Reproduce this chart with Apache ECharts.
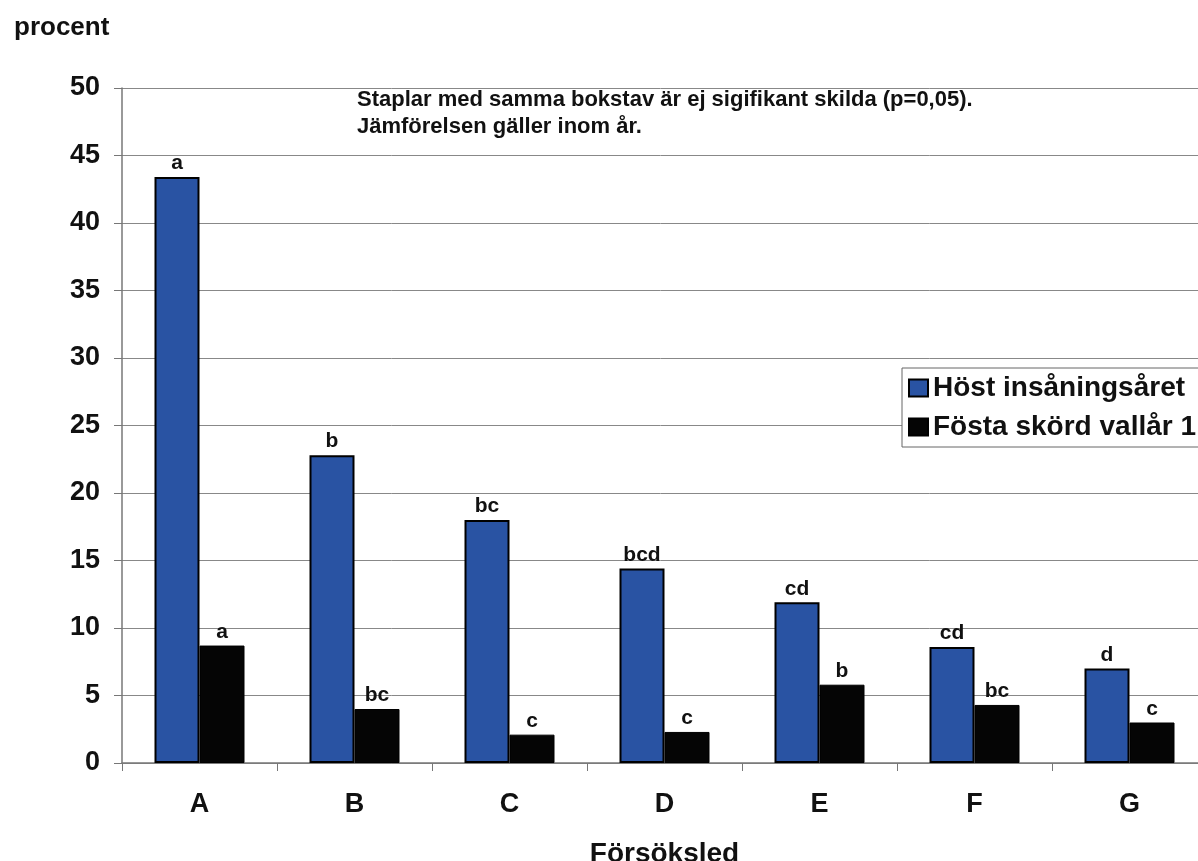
<!DOCTYPE html>
<html>
<head>
<meta charset="utf-8">
<script src="https://cdn.jsdelivr.net/npm/echarts@6/dist/echarts.min.js"></script>
<style>
html,body{margin:0;padding:0;background:#fff;overflow:hidden;}
#chart{width:1198px;height:861px;}
</style>
</head>
<body>
<div id="chart"></div>
<script>
const categories = ['A','B','C','D','E','F','G'];
const seriesNames = ['Höst insåningsåret','Fösta skörd vallår 1'];
const hostValues = [43.4, 22.8, 18.0, 14.4, 11.9, 8.6, 7.0];
const skordValues = [8.7, 4.0, 2.1, 2.3, 5.8, 4.3, 3.0];
const hostLetters = ['a','b','bc','bcd','cd','cd','d'];
const skordLetters = ['a','bc','c','c','b','bc','c'];
const yTicks = [0,5,10,15,20,25,30,35,40,45,50];
const noteLines = ['Staplar med samma bokstav är ej sigifikant skilda (p=0,05).','Jämförelsen gäller inom år.'];

const FONT = '"Liberation Sans", Arial, sans-serif';
const chart = echarts.init(document.getElementById('chart'));

function labelFor(letters){
  return {
    show: true, position: 'top', distance: 3,
    formatter: p => letters[p.dataIndex],
    fontFamily: FONT, fontWeight: 'bold', fontSize: 21, color: '#111'
  };
}

chart.setOption({
  animation: false,
  backgroundColor: '#fff',
  grid: {left: 122, width: 1085, top: 88, bottom: 98, containLabel: false, outerBoundsMode: 'none'},
  title: {
    text: 'procent', left: 9, top: 10,
    textStyle: {fontFamily: FONT, fontWeight: 'bold', fontSize: 26, color: '#111'}
  },
  legend: {
    left: 902, top: 368,
    orient: 'vertical',
    itemWidth: 19, itemHeight: 17, itemGap: 11,
    padding: [6, 40, 6, 6],
    backgroundColor: '#fff', borderColor: '#666', borderWidth: 1,
    icon: 'rect',
    textStyle: {fontFamily: FONT, fontWeight: 'bold', fontSize: 28, color: '#111'},
    data: seriesNames
  },
  xAxis: {
    type: 'category', data: categories,
    name: 'Försöksled', nameLocation: 'middle', nameGap: 77,
    nameTextStyle: {fontFamily: FONT, fontWeight: 'bold', fontSize: 28, color: '#111'},
    axisLine: {lineStyle: {color: '#777', width: 1.5}},
    axisTick: {show: true, length: 8, lineStyle: {color: '#777'}},
    axisLabel: {margin: 28, fontFamily: FONT, fontWeight: 'bold', fontSize: 27, color: '#111'}
  },
  yAxis: {
    type: 'value', min: 0, max: 50, interval: 5,
    axisLine: {show: true, lineStyle: {color: '#777', width: 1.5}},
    axisTick: {show: true, length: 8, inside: false, lineStyle: {color: '#777'}},
    axisLabel: {margin: 22, fontFamily: FONT, fontWeight: 'bold', fontSize: 27, color: '#111',
      formatter: v => yTicks.includes(v) ? String(v) : ''},
    splitLine: {show: true, lineStyle: {color: '#888', width: 1}}
  },
  series: [
    {
      name: seriesNames[0], type: 'bar', data: hostValues,
      barGap: '0%', barWidth: 45,
      itemStyle: {color: '#2953a3', borderColor: '#000', borderWidth: 2},
      label: labelFor(hostLetters)
    },
    {
      name: seriesNames[1], type: 'bar', data: skordValues,
      barWidth: 45,
      itemStyle: {color: '#050505', borderColor: '#000', borderWidth: 1},
      label: labelFor(skordLetters)
    }
  ],
  graphic: [
    {type: 'text', left: 357, top: 89,
      style: {text: noteLines[0], font: 'bold 22px ' + FONT, fill: '#111'}},
    {type: 'text', left: 357, top: 116,
      style: {text: noteLines[1], font: 'bold 22px ' + FONT, fill: '#111'}}
  ]
});
</script>
</body>
</html>
